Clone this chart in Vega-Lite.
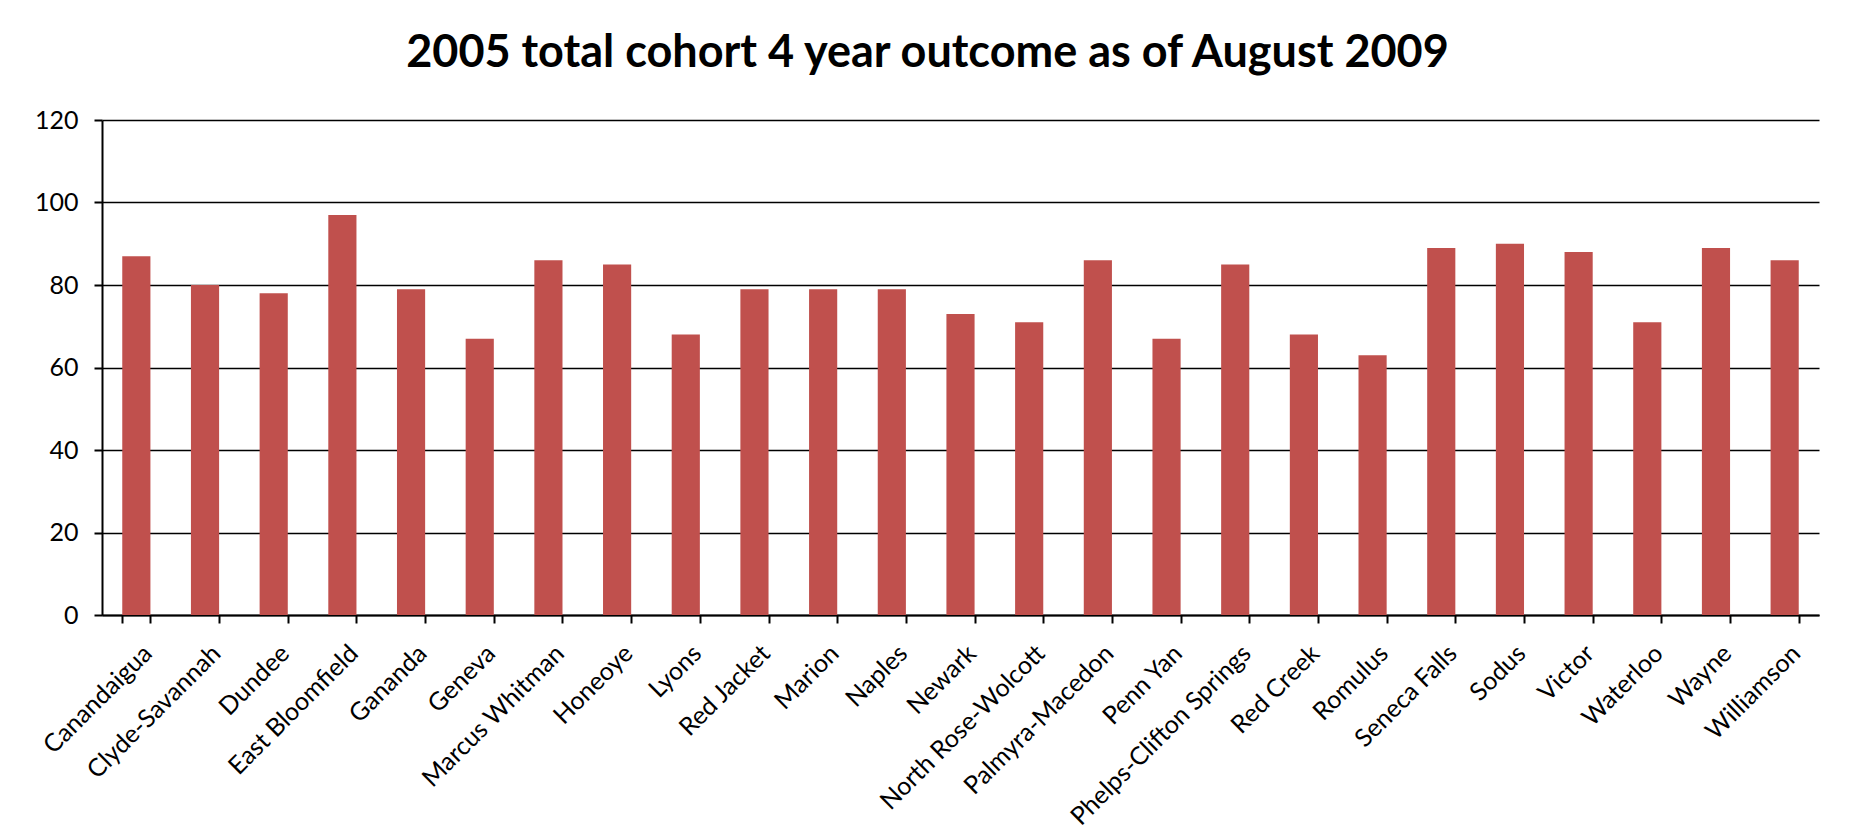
{
  "$schema": "https://vega.github.io/schema/vega-lite/v6.json",
  "width": 1717,
  "height": 495,
  "autosize": {"type": "none"},
  "padding": {"left": 102, "top": 120, "right": 36, "bottom": 220},
  "background": "white",
  "title": {
    "text": "2005 total cohort 4 year outcome as of August 2009",
    "font": "Lato",
    "fontSize": 45,
    "fontWeight": "bold",
    "color": "black",
    "anchor": "middle",
    "frame": "group",
    "dx": -33,
    "offset": 32
  },
  "data": {
    "values": [
      {"district": "Canandaigua", "value": 87},
      {"district": "Clyde-Savannah", "value": 80},
      {"district": "Dundee", "value": 78},
      {"district": "East Bloomfield", "value": 97},
      {"district": "Gananda", "value": 79},
      {"district": "Geneva", "value": 67},
      {"district": "Marcus Whitman", "value": 86},
      {"district": "Honeoye", "value": 85},
      {"district": "Lyons", "value": 68},
      {"district": "Red Jacket", "value": 79},
      {"district": "Marion", "value": 79},
      {"district": "Naples", "value": 79},
      {"district": "Newark", "value": 73},
      {"district": "North Rose-Wolcott", "value": 71},
      {"district": "Palmyra-Macedon", "value": 86},
      {"district": "Penn Yan", "value": 67},
      {"district": "Phelps-Clifton Springs", "value": 85},
      {"district": "Red Creek", "value": 68},
      {"district": "Romulus", "value": 63},
      {"district": "Seneca Falls", "value": 89},
      {"district": "Sodus", "value": 90},
      {"district": "Victor", "value": 88},
      {"district": "Waterloo", "value": 71},
      {"district": "Wayne", "value": 89},
      {"district": "Williamson", "value": 86}
    ]
  },
  "mark": {"type": "bar", "color": "#C0504D"},
  "encoding": {
    "x": {
      "field": "district",
      "type": "nominal",
      "sort": null,
      "scale": {"paddingInner": 0.59, "paddingOuter": 0.295},
      "axis": {
        "title": null,
        "grid": false,
        "labelAngle": -45,
        "labelAlign": "right",
        "labelBaseline": "middle",
        "labelOffset": 11,
        "labelPadding": 26,
        "labelLimit": 0,
        "labelOverlap": false,
        "labelFont": "Lato",
        "labelFontSize": 25,
        "labelColor": "black",
        "tickBand": "extent",
        "tickSize": 8,
        "tickColor": "black",
        "tickWidth": 2,
        "domainColor": "black",
        "domainWidth": 2
      }
    },
    "y": {
      "field": "value",
      "type": "quantitative",
      "scale": {"domain": [0, 120], "nice": false},
      "axis": {
        "title": null,
        "values": [0, 20, 40, 60, 80, 100, 120],
        "grid": true,
        "gridColor": "black",
        "gridWidth": 1.5,
        "labelFont": "Lato",
        "labelFontSize": 25,
        "labelColor": "black",
        "labelPadding": 16,
        "tickSize": 8,
        "tickColor": "black",
        "tickWidth": 2,
        "domainColor": "black",
        "domainWidth": 2
      }
    }
  },
  "config": {"view": {"stroke": null}}
}
